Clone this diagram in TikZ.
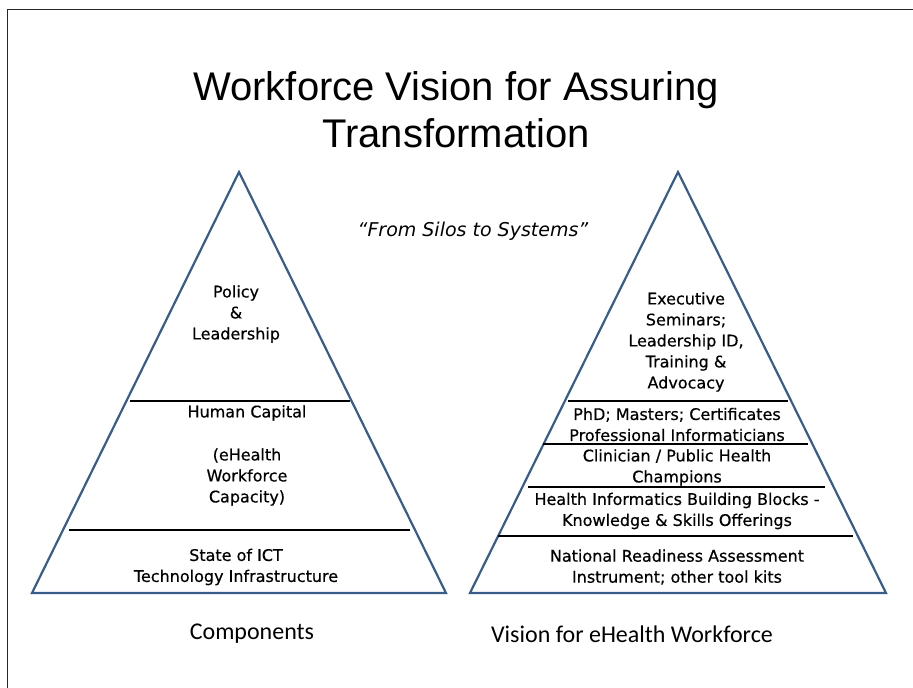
\documentclass[tikz,border=0pt]{standalone}
\usepackage{fontspec}
\setmainfont{Liberation Sans}
\newfontfamily\bodyfont[FakeBold=0.5]{DejaVu Sans}
\newfontfamily\mottofont{DejaVu Sans}
\newfontfamily\capfont{Carlito}
\definecolor{triblue}{RGB}{56,93,138}
\definecolor{framegray}{RGB}{40,40,40}
\begin{document}
\begin{tikzpicture}[x=1pt,y=-1pt,
  tri/.style={draw=triblue,line width=2.2pt,line join=miter},
  sep/.style={draw=black,line width=1.4pt},
  blk/.style={inner sep=0pt,align=center,font=\bodyfont\fontsize{16}{21}\selectfont},
  lbl/.style={inner sep=0pt,font=\capfont\fontsize{24}{28}\selectfont}]
\useasboundingbox (0,0) rectangle (913,688);
\fill[white] (0,0) rectangle (913,688);
% frame
\draw[framegray,line width=1pt] (7,688) -- (7,9) -- (913,9);
% title
\node[inner sep=0pt,align=center,font=\fontsize{40}{47}\selectfont] (title) at (456,110) {Workforce Vision for Assuring\\Transformation};
\node[inner sep=0pt,font=\mottofont\itshape\fontsize{19}{22}\selectfont] (motto) at (473,231) {“From Silos to Systems”};
% left triangle
\coordinate (LA) at (239,172);
\coordinate (LL) at (32,593);
\coordinate (LR) at (446,593);
\draw[tri] (LA) -- (LR) -- (LL) -- cycle;
\coordinate (l1a) at (130,401); \coordinate (l1b) at (350,401);
\coordinate (l2a) at (69,530);  \coordinate (l2b) at (410,530);
\draw[sep] (l1a) -- (l1b);
\draw[sep] (l2a) -- (l2b);
\node[blk] (policy) at (236,314) {Policy\\\&\\Leadership};
\node[blk] (human) at (247,413) {Human Capital};
\node[blk] (ehealth) at (247,477) {(eHealth\\Workforce\\Capacity)};
\node[blk] (ict) at (236,567) {State of ICT\\Technology Infrastructure};
% right triangle
\coordinate (RA) at (678,172);
\coordinate (RL) at (470,593);
\coordinate (RR) at (886,593);
\draw[tri] (RA) -- (RR) -- (RL) -- cycle;
\coordinate (r1a) at (568,401); \coordinate (r1b) at (788,401);
\coordinate (r2a) at (543,444); \coordinate (r2b) at (808,444);
\coordinate (r3a) at (528,487); \coordinate (r3b) at (825,487);
\coordinate (r4a) at (498,536); \coordinate (r4b) at (853,536);
\draw[sep] (r1a) -- (r1b);
\draw[sep] (r2a) -- (r2b);
\draw[sep,line width=2.6pt] (r3a) -- (r3b);
\draw[sep] (r4a) -- (r4b);
\node[blk] (exec) at (686,342) {Executive\\Seminars;\\Leadership ID,\\Training \&\\Advocacy};
\node[blk] (phd) at (677,424.5) {PhD; Masters; Certificates\\Professional Informaticians};
\node[blk] (clin) at (677,467.5) {Clinician / Public Health\\Champions};
\node[blk] (hibb) at (677,511) {Health Informatics Building Blocks -\\Knowledge \& Skills Offerings};
\node[blk] (nat) at (677,567) {National Readiness Assessment\\Instrument; other tool kits};
% captions
\node[lbl] (comp) at (252,634) {Components};
\node[lbl] (vis) at (632,634) {Vision for eHealth Workforce};
\end{tikzpicture}
\end{document}
